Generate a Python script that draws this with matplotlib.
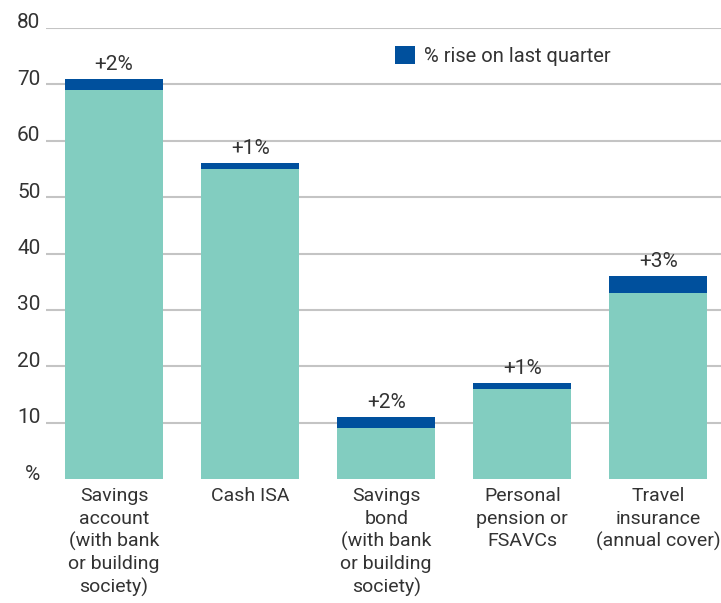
import numpy as np
import matplotlib
matplotlib.use("Agg")
import matplotlib.pyplot as plt
import matplotlib.transforms as mtransforms
from matplotlib.patches import Patch

plt.rcParams['font.family'] = ['Roboto', 'DejaVu Sans']

categories = ["Savings\naccount\n(with bank\nor building\nsociety)", "Cash ISA",
              "Savings\nbond\n(with bank\nor building\nsociety)", "Personal\npension or\nFSAVCs",
              "Travel\ninsurance\n(annual cover)"]
base = [69, 55, 9, 16, 33]
rise = [2, 1, 2, 1, 3]
rise_labels = ["+2%", "+1%", "+2%", "+1%", "+3%"]
yticks = [0, 10, 20, 30, 40, 50, 60, 70, 80]
ytick_labels = ["%", "10", "20", "30", "40", "50", "60", "70", "80"]

teal = "#82cdc0"; blue = "#00509d"; txt = "#333333"; grid_c = "#c4c4c4"
fs = 15

fig = plt.figure(figsize=(7.21, 6.03), dpi=100)
ax = fig.add_axes([46/721, (603-479)/603, 1 - 46/721, (479-28)/603])

x = np.arange(len(categories))
w = 0.72
ax.bar(x, base, width=w, color=teal, zorder=3)
ax.bar(x, rise, width=w, bottom=base, color=blue, zorder=3)
for xi, b, r, lab in zip(x, base, rise, rise_labels):
    ax.text(xi, b + r + 0.9, lab, ha="center", va="bottom", fontsize=fs, color=txt)

ax.set_xlim(-0.5, 4.46)
ax.set_ylim(0, 80)
ax.set_yticks(yticks)
ax.set_yticklabels(ytick_labels)
ax.set_xticks(x)
ax.set_xticklabels(categories, linespacing=1.3)
ax.tick_params(axis="y", length=0, pad=4, labelsize=fs, labelcolor=txt)
ax.tick_params(axis="x", length=0, pad=6, labelsize=14, labelcolor=txt)
shift = mtransforms.ScaledTranslation(0, 0.07, fig.dpi_scale_trans)
for lab in ax.get_yticklabels():
    lab.set_transform(lab.get_transform() + shift)
for s in ax.spines.values():
    s.set_visible(False)
ax.yaxis.grid(True, color=grid_c, linewidth=1.5, zorder=0)
ax.set_axisbelow(True)
ax.get_ygridlines()[0].set_visible(False)

ax.legend(handles=[Patch(facecolor=blue, label="% rise on last quarter")],
          loc="upper left", bbox_to_anchor=(395/721, 1 - 46/603), bbox_transform=fig.transFigure,
          frameon=False, fontsize=14.5, handlelength=1.0, handleheight=1.0, handletextpad=0.45,
          labelcolor=txt, borderaxespad=0, borderpad=0)

fig.savefig("out.png", dpi=100)
